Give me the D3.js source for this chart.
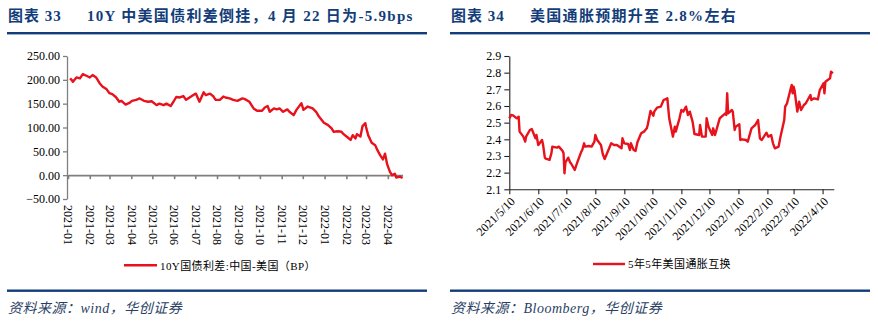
<!DOCTYPE html>
<html>
<head>
<meta charset="utf-8">
<script src="https://cdn.jsdelivr.net/npm/d3@7"></script>
<style>
  body { margin: 0; background: #fff; }
  svg { display: block; }
  .tick text { font-family: "Liberation Serif", "Noto Sans CJK SC", serif; fill: #000; }
</style>
</head>
<body>
<svg id="chart" width="878" height="321"></svg>
<script>
// 10Y spread China - US (BP)
var spread = [
  ["2021-01-04",203],["2021-01-06",200],["2021-01-08",196],["2021-01-13",205],["2021-01-18",203],
  ["2021-01-22",212],["2021-01-28",208],["2021-02-01",205],["2021-02-05",210],["2021-02-10",205],
  ["2021-02-15",193],["2021-02-19",186],["2021-02-25",180],["2021-03-01",172],["2021-03-05",170],
  ["2021-03-10",164],["2021-03-15",154],["2021-03-18",156],["2021-03-24",148],["2021-03-30",152],
  ["2021-04-02",156],["2021-04-08",158],["2021-04-13",161],["2021-04-19",156],["2021-04-25",154],
  ["2021-04-30",155],["2021-05-07",147],["2021-05-11",150],["2021-05-17",147],["2021-05-21",150],
  ["2021-05-27",145],["2021-05-31",154],["2021-06-04",164],["2021-06-09",163],["2021-06-14",166],
  ["2021-06-18",158],["2021-06-24",164],["2021-06-30",170],["2021-07-02",171],["2021-07-07",154],
  ["2021-07-13",174],["2021-07-16",168],["2021-07-22",171],["2021-07-27",165],["2021-07-30",158],
  ["2021-08-05",158],["2021-08-10",165],["2021-08-13",163],["2021-08-19",161],["2021-08-24",158],
  ["2021-08-30",156],["2021-09-06",161],["2021-09-09",160],["2021-09-16",154],["2021-09-22",140],
  ["2021-09-27",135],["2021-10-04",135],["2021-10-08",142],["2021-10-12",145],["2021-10-15",133],
  ["2021-10-21",140],["2021-10-25",138],["2021-10-29",140],["2021-11-03",133],["2021-11-09",138],
  ["2021-11-12",133],["2021-11-18",126],["2021-11-22",137],["2021-11-29",151],["2021-12-02",137],
  ["2021-12-08",144],["2021-12-15",140],["2021-12-20",133],["2021-12-24",123],["2021-12-31",110],
  ["2022-01-06",105],["2022-01-11",98],["2022-01-14",91],["2022-01-20",92],["2022-01-25",91],
  ["2022-01-28",86],["2022-02-03",79],["2022-02-07",74],["2022-02-10",84],["2022-02-14",77],
  ["2022-02-16",86],["2022-02-21",81],["2022-02-24",103],["2022-02-28",109],["2022-03-01",101],
  ["2022-03-04",84],["2022-03-09",68],["2022-03-14",63],["2022-03-17",53],["2022-03-21",42],
  ["2022-03-25",33],["2022-03-28",45],["2022-03-31",23],["2022-04-04",7],["2022-04-07",0],
  ["2022-04-11",3],["2022-04-13",-5],["2022-04-18",-3],["2022-04-22",-5.9]
];

// 5y5y US inflation swap
var bei = [
  ["2021-05-10",2.526],["2021-05-12",2.546],["2021-05-14",2.544],["2021-05-18",2.526],["2021-05-20",2.536],
  ["2021-05-21",2.446],["2021-05-25",2.416],["2021-05-27",2.386],["2021-05-28",2.416],["2021-06-01",2.456],
  ["2021-06-03",2.462],["2021-06-07",2.406],["2021-06-08",2.426],["2021-06-10",2.366],["2021-06-14",2.396],
  ["2021-06-15",2.372],["2021-06-17",2.29],["2021-06-18",2.284],["2021-06-22",2.276],["2021-06-24",2.316],
  ["2021-06-25",2.356],["2021-06-30",2.35],["2021-07-02",2.356],["2021-07-06",2.33],["2021-07-07",2.316],
  ["2021-07-08",2.196],["2021-07-09",2.262],["2021-07-12",2.29],["2021-07-14",2.262],["2021-07-15",2.256],
  ["2021-07-16",2.246],["2021-07-19",2.216],["2021-07-22",2.266],["2021-07-26",2.326],["2021-07-27",2.336],
  ["2021-07-29",2.376],["2021-07-30",2.356],["2021-08-03",2.36],["2021-08-06",2.356],["2021-08-09",2.386],
  ["2021-08-10",2.426],["2021-08-12",2.396],["2021-08-16",2.366],["2021-08-18",2.31],["2021-08-20",2.282],
  ["2021-08-24",2.336],["2021-08-27",2.376],["2021-08-30",2.366],["2021-09-02",2.366],["2021-09-07",2.346],
  ["2021-09-08",2.406],["2021-09-10",2.376],["2021-09-14",2.372],["2021-09-16",2.336],["2021-09-17",2.376],
  ["2021-09-20",2.336],["2021-09-22",2.33],["2021-09-24",2.382],["2021-09-28",2.436],["2021-10-01",2.446],
  ["2021-10-04",2.466],["2021-10-05",2.486],["2021-10-08",2.57],["2021-10-11",2.542],["2021-10-12",2.566],
  ["2021-10-15",2.59],["2021-10-19",2.596],["2021-10-22",2.636],["2021-10-26",2.646],["2021-10-28",2.526],
  ["2021-11-01",2.416],["2021-11-03",2.476],["2021-11-04",2.446],["2021-11-08",2.526],["2021-11-10",2.576],
  ["2021-11-12",2.566],["2021-11-15",2.596],["2021-11-17",2.546],["2021-11-19",2.566],["2021-11-22",2.506],
  ["2021-11-24",2.432],["2021-11-29",2.426],["2021-11-30",2.486],["2021-12-02",2.416],["2021-12-06",2.416],
  ["2021-12-07",2.526],["2021-12-09",2.476],["2021-12-13",2.426],["2021-12-14",2.466],["2021-12-16",2.426],
  ["2021-12-21",2.526],["2021-12-23",2.536],["2021-12-27",2.556],["2021-12-28",2.546],["2021-12-29",2.676],
  ["2021-12-30",2.556],["2022-01-03",2.576],["2022-01-04",2.566],["2022-01-06",2.456],["2022-01-07",2.476],
  ["2022-01-11",2.49],["2022-01-12",2.396],["2022-01-14",2.4],["2022-01-18",2.396],["2022-01-20",2.386],
  ["2022-01-24",2.466],["2022-01-26",2.476],["2022-01-28",2.486],["2022-01-31",2.516],["2022-02-02",2.406],
  ["2022-02-04",2.396],["2022-02-09",2.44],["2022-02-11",2.416],["2022-02-14",2.426],["2022-02-16",2.376],
  ["2022-02-18",2.346],["2022-02-22",2.356],["2022-02-24",2.416],["2022-02-28",2.516],["2022-03-01",2.596],
  ["2022-03-03",2.616],["2022-03-07",2.706],["2022-03-08",2.726],["2022-03-09",2.676],["2022-03-10",2.716],
  ["2022-03-11",2.696],["2022-03-14",2.566],["2022-03-16",2.626],["2022-03-18",2.576],["2022-03-21",2.606],
  ["2022-03-23",2.616],["2022-03-25",2.636],["2022-03-28",2.666],["2022-03-29",2.636],["2022-04-01",2.646],
  ["2022-04-05",2.64],["2022-04-07",2.696],["2022-04-11",2.736],["2022-04-12",2.676],["2022-04-13",2.746],
  ["2022-04-18",2.766],["2022-04-19",2.806],["2022-04-21",2.796]
];

var spreadTicks = [-50, 0, 50, 100, 150, 200, 250];
var beiTicks = [2.1, 2.2, 2.3, 2.4, 2.5, 2.6, 2.7, 2.8, 2.9];
var beiTickDates = ["2021-05-10","2021-06-10","2021-07-10","2021-08-10","2021-09-10","2021-10-10",
  "2021-11-10","2021-12-10","2022-01-10","2022-02-10","2022-03-10","2022-04-10"];

var parse = d3.timeParse("%Y-%m-%d");
var red = "#e8121c", navy = "#123d7a";
var serif = "'Liberation Serif', 'Noto Sans CJK SC', serif";
var cjk = "'Liberation Serif', 'Noto Sans CJK SC', sans-serif";

var svg = d3.select("#chart");

// titles, rules, sources
function header(x0, x1, num, title, source) {
  svg.append("text").attr("x", x0 + 1).attr("y", 21)
    .attr("font-family", cjk).attr("font-weight", "bold").attr("font-size", 15)
    .attr("letter-spacing", 1).attr("fill", navy).text("图表 " + num);
  svg.append("text").attr("x", x0 + num.length + 78).attr("y", 21)
    .attr("font-family", cjk).attr("font-weight", "bold").attr("font-size", 15)
    .attr("letter-spacing", 1.3).attr("fill", navy).text(title);
  svg.append("rect").attr("x", x0).attr("y", 32).attr("width", x1 - x0).attr("height", 2.4).attr("fill", navy);
  svg.append("rect").attr("x", x0).attr("y", 289.5).attr("width", x1 - x0).attr("height", 2.4).attr("fill", navy);
  svg.append("text").attr("x", x0 + 1).attr("y", 313)
    .attr("font-family", cjk).attr("font-style", "italic").attr("font-size", 14)
    .attr("letter-spacing", 0.5).attr("fill", "#2b3f66").text(source);
}
header(7, 427, "33", "10Y 中美国债利差倒挂，4 月 22 日为-5.9bps", "资料来源：wind，华创证券");
header(450, 870, "34", "美国通胀预期升至 2.8%左右", "资料来源：Bloomberg，华创证券");

// ---------- left chart ----------
var x1 = d3.scaleTime().domain([parse("2021-01-01"), parse("2022-04-22")]).range([68, 402.6]);
var y1 = d3.scaleLinear().domain([-50, 250]).range([199, 56]);

var gy1 = svg.append("g").attr("transform", "translate(67,0)")
  .call(d3.axisLeft(y1).tickValues(spreadTicks).tickFormat(d3.format(".2f")).tickSize(4).tickSizeOuter(0));
gy1.selectAll("text").attr("font-size", 12);
gy1.selectAll("line, path").attr("stroke", "#7f7f7f").attr("stroke-width", 1.3);

var gx1 = svg.append("g").attr("transform", "translate(0," + y1(0) + ")")
  .call(d3.axisBottom(x1).ticks(d3.timeMonth.every(1)).tickFormat("").tickSize(4).tickSizeOuter(0));
gx1.selectAll("line, path").attr("stroke", "#7f7f7f").attr("stroke-width", 1.6);

var gx1l = svg.append("g").attr("transform", "translate(0,205)")
  .call(d3.axisBottom(x1).ticks(d3.timeMonth.every(1)).tickFormat(d3.timeFormat("%Y-%m")).tickSize(0));
gx1l.select(".domain").remove();
gx1l.selectAll("text").attr("font-size", 12)
  .attr("x", 0).attr("y", 0).attr("dy", "0.35em")
  .attr("transform", "rotate(90)").style("text-anchor", "start");

svg.append("path").datum(spread)
  .attr("fill", "none").attr("stroke", red).attr("stroke-width", 2.4).attr("stroke-linejoin", "round")
  .attr("d", d3.line().x(function(d) { return x1(parse(d[0])); }).y(function(d) { return y1(d[1]); }));

svg.append("line").attr("x1", 124).attr("x2", 157).attr("y1", 265.3).attr("y2", 265.3)
  .attr("stroke", red).attr("stroke-width", 2.4);
svg.append("text").attr("x", 160).attr("y", 269.5).attr("font-family", serif).attr("font-size", 11)
  .attr("letter-spacing", 0.4).text("10Y国债利差:中国-美国（BP）");

// ---------- right chart ----------
var x2 = d3.scaleTime().domain([parse("2021-05-10"), parse("2022-04-22")]).range([509.3, 833.8]);
var y2 = d3.scaleLinear().domain([2.1, 2.9]).range([189.3, 56]);

var gy2 = svg.append("g").attr("transform", "translate(509.3,0)")
  .call(d3.axisLeft(y2).tickValues(beiTicks).tickFormat(d3.format(".1f")).tickSize(5).tickSizeOuter(0));
gy2.selectAll("text").attr("font-size", 12);
gy2.selectAll("line, path").attr("stroke", "#222").attr("stroke-width", 1.1);

var gx2 = svg.append("g").attr("transform", "translate(0,189.3)")
  .call(d3.axisBottom(x2).tickValues(beiTickDates.map(parse)).tickFormat(d3.timeFormat("%Y/%-m/%-d"))
    .tickSize(5).tickSizeOuter(0));
gx2.selectAll("line, path").attr("stroke", "#222").attr("stroke-width", 1.1);
gx2.selectAll("text").attr("font-size", 12)
  .attr("x", 0).attr("y", 0).attr("dy", "0.35em")
  .attr("transform", "translate(3,10) rotate(-45)").style("text-anchor", "end");

svg.append("path").datum(bei)
  .attr("fill", "none").attr("stroke", red).attr("stroke-width", 2.4).attr("stroke-linejoin", "round")
  .attr("d", d3.line().x(function(d) { return x2(parse(d[0])); }).y(function(d) { return y2(d[1]); }));

svg.append("line").attr("x1", 593).attr("x2", 625).attr("y1", 264).attr("y2", 264)
  .attr("stroke", red).attr("stroke-width", 2.4);
svg.append("text").attr("x", 628).attr("y", 268).attr("font-family", serif).attr("font-size", 11)
  .attr("letter-spacing", 0.4).text("5年5年美国通胀互换");
</script>
</body>
</html>
